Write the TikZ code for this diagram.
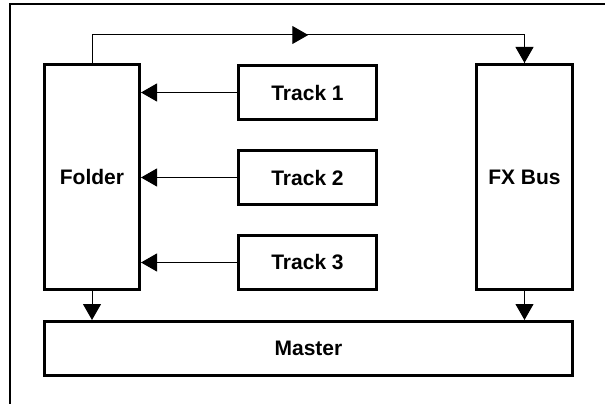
\documentclass[tikz,border=0pt]{standalone}
\usepackage{fontspec}
\setmainfont{Liberation Sans}
\usetikzlibrary{arrows.meta,decorations.markings}

\begin{document}
\begin{tikzpicture}[
x=1pt, y=-1pt, % 1 đơn vị = 1 pixel, trục y hướng xuống
>={Triangle[length=16pt,width=18pt]},
box/.style={draw, line width=3pt, minimum width=#1, minimum height=54pt, inner sep=0pt,
  font=\fontsize{21}{25}\selectfont\bfseries},
feed/.style={->, line width=1pt},
midarrow/.style={line width=1pt, postaction={decorate},
  decoration={markings, mark=at position 0.5 with {\arrow{>}}}}
]
\useasboundingbox (0,0) rectangle (605,404);

% --- Khung ngoài ---
\draw[line width=2.5pt] (10,404) -- (10,4) -- (605,4);

% --- Các khối ---
\node[box=95pt, minimum height=225pt] (folder) at (92,177) {Folder};
\node[box=96pt, minimum height=225pt] (fxbus) at (524.5,177) {FX Bus};
\node[box=138pt] (track1) at (307.5,92.5) {Track 1};
\node[box=138pt] (track2) at (307.5,177.5) {Track 2};
\node[box=138pt] (track3) at (307.5,262.5) {Track 3};
\node[box=528pt] (master) at (308.5,348.5) {Master};

% Track -> Folder
\draw[feed] (track1.west) -- (track1.west -| folder.east);
\draw[feed] (track2.west) -- (track2.west -| folder.east);
\draw[feed] (track3.west) -- (track3.west -| folder.east);

% Folder -> FX Bus (gửi)
\draw[midarrow] (folder.north) -- ++(0,-28) coordinate (send) -| (fxbus.north);
\draw[feed] (send -| fxbus.north) -- (fxbus.north);

% Về Master
\draw[feed] (folder.south) -- (folder.south |- master.north);
\draw[feed] (fxbus.south) -- (fxbus.south |- master.north);

\end{tikzpicture}
\end{document}
